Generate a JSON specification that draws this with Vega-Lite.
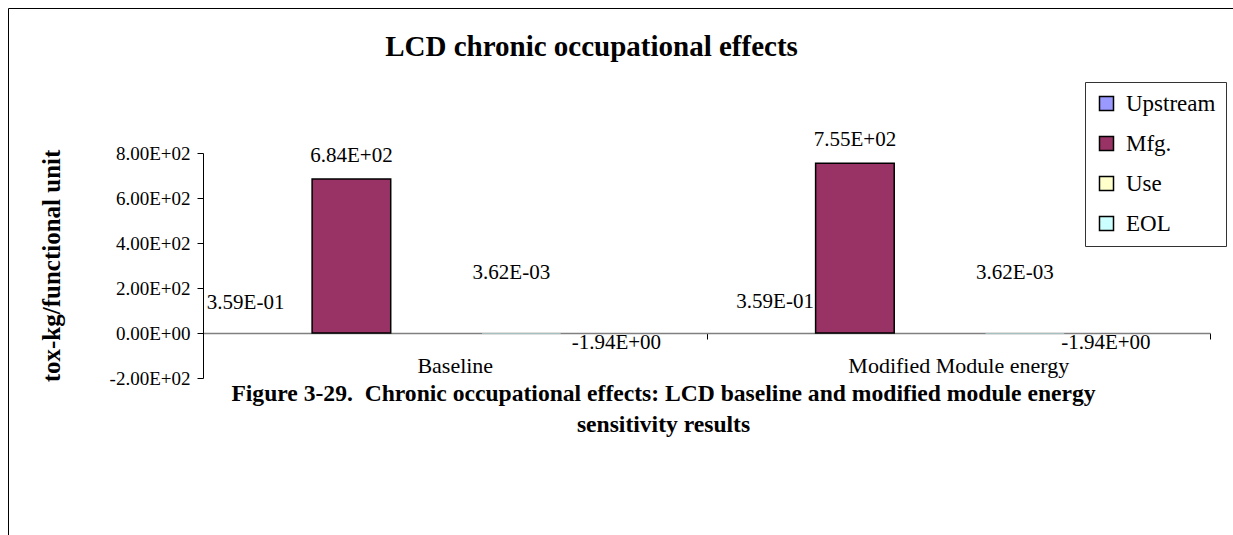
{
  "$schema": "https://vega.github.io/schema/vega-lite/v6.json",
  "width": 1227,
  "height": 529,
  "autosize": {"type": "none"},
  "padding": {"left": 8, "top": 8, "right": -2, "bottom": -2},
  "background": "white",
  "config": {
    "view": {"stroke": "black", "strokeWidth": 1},
    "font": "Liberation Serif",
    "text": {"font": "Liberation Serif", "fontSize": 21, "color": "black"}
  },
  "title": {
    "text": "LCD chronic occupational effects",
    "font": "Liberation Serif",
    "fontSize": 29,
    "fontWeight": "bold",
    "color": "black",
    "anchor": "middle",
    "frame": "group",
    "dx": -30,
    "offset": 0,
    "dy": 54
  },
  "data": {
    "values": [
      {"scenario": "Baseline", "stage": "Upstream", "value": 0.359, "label": "3.59E-01"},
      {"scenario": "Baseline", "stage": "Mfg.", "value": 684, "label": "6.84E+02"},
      {"scenario": "Baseline", "stage": "Use", "value": 0.00362, "label": "3.62E-03"},
      {"scenario": "Baseline", "stage": "EOL", "value": -1.94, "label": "-1.94E+00"},
      {"scenario": "Modified Module energy", "stage": "Upstream", "value": 0.359, "label": "3.59E-01"},
      {"scenario": "Modified Module energy", "stage": "Mfg.", "value": 755, "label": "7.55E+02"},
      {"scenario": "Modified Module energy", "stage": "Use", "value": 0.00362, "label": "3.62E-03"},
      {"scenario": "Modified Module energy", "stage": "EOL", "value": -1.94, "label": "-1.94E+00"}
    ]
  },
  "encoding": {
    "x": {
      "field": "scenario",
      "type": "nominal",
      "sort": ["Baseline", "Modified Module energy"],
      "scale": {"range": [195, 1202], "paddingInner": 0, "paddingOuter": 0},
      "axis": {
        "orient": "bottom",
        "offset": -204,
        "labelAngle": 0,
        "labelLimit": 0,
        "tickBand": "extent",
        "domainColor": "#808080",
        "domainWidth": 1.5,
        "tickColor": "#000000",
        "tickSize": 6,
        "labelPadding": 16,
        "labelFont": "Liberation Serif",
        "labelFontSize": 22,
        "labelColor": "black",
        "title": ["Figure 3-29.\u00a0 Chronic occupational effects: LCD baseline and modified module energy", "sensitivity results"],
        "titleFont": "Liberation Serif",
        "titleFontSize": 23.6,
        "titleFontWeight": "bold",
        "titleColor": "black",
        "titleX": 655,
        "titleY": 48,
        "titleAlign": "center",
        "titleBaseline": "top",
        "titleLineHeight": 31
      }
    },
    "xOffset": {
      "field": "stage",
      "type": "nominal",
      "sort": ["Upstream", "Mfg.", "Use", "EOL"],
      "scale": {"paddingInner": 0.075, "paddingOuter": 1.228, "align": 0.142}
    },
    "y": {
      "field": "value",
      "type": "quantitative",
      "scale": {"domain": [-200, 800], "range": [370, 145], "nice": false, "zero": false},
      "axis": {
        "orient": "left",
        "offset": -195,
        "values": [-200, 0, 200, 400, 600, 800],
        "labelExpr": "datum.value === 0 ? '0.00E+00' : (datum.value < 0 ? '-' : '') + format(abs(datum.value) / 100, '.2f') + 'E+02'",
        "grid": false,
        "domainColor": "#000000",
        "tickColor": "#000000",
        "tickSize": 6,
        "labelPadding": 7,
        "labelFont": "Liberation Serif",
        "labelFontSize": 19,
        "labelColor": "black",
        "title": "tox-kg/functional unit",
        "titleFont": "Liberation Serif",
        "titleFontSize": 25,
        "titleFontWeight": "bold",
        "titleColor": "black",
        "titlePadding": 45
      }
    }
  },
  "layer": [
    {
      "mark": {"type": "bar", "stroke": "black"},
      "encoding": {
        "strokeWidth": {"condition": {"test": "datum.stage === 'Mfg.'", "value": 1.5}, "value": 0},
        "color": {
          "field": "stage",
          "type": "nominal",
          "sort": ["Upstream", "Mfg.", "Use", "EOL"],
          "scale": {"domain": ["Upstream", "Mfg.", "Use", "EOL"], "range": ["#9999FF", "#993366", "#FFFFCC", "#CCFFFF"]},
          "legend": {
            "title": null,
            "orient": "none",
            "legendX": 1077,
            "legendY": 74,
            "direction": "vertical",
            "strokeColor": "#333333",
            "fillColor": "white",
            "padding": 10,
            "symbolType": "square",
            "symbolSize": 196,
            "symbolStrokeColor": "black",
            "symbolStrokeWidth": 1.5,
            "symbolOpacity": 1,
            "labelFont": "Liberation Serif",
            "labelFontSize": 23,
            "labelColor": "black",
            "labelOffset": 8,
            "rowPadding": 16
          }
        }
      }
    },
    {
      "transform": [{"filter": "datum.stage === 'Mfg.'"}],
      "mark": {"type": "text", "baseline": "middle", "dy": -23},
      "encoding": {"text": {"field": "label"}}
    },
    {
      "transform": [{"filter": "datum.stage === 'Upstream' && datum.scenario === 'Baseline'"}],
      "mark": {"type": "text", "baseline": "middle", "align": "right", "dx": 18, "dy": -30},
      "encoding": {"text": {"field": "label"}}
    },
    {
      "transform": [{"filter": "datum.stage === 'Upstream' && datum.scenario !== 'Baseline'"}],
      "mark": {"type": "text", "baseline": "middle", "align": "right", "dx": 44, "dy": -31},
      "encoding": {"text": {"field": "label"}}
    },
    {
      "transform": [{"filter": "datum.stage === 'Use'"}],
      "mark": {"type": "text", "baseline": "middle", "dx": 75, "dy": -60},
      "encoding": {"text": {"field": "label"}}
    },
    {
      "transform": [{"filter": "datum.stage === 'EOL' && datum.scenario === 'Baseline'"}],
      "mark": {"type": "text", "baseline": "middle", "dx": 95, "dy": 10},
      "encoding": {"text": {"field": "label"}}
    },
    {
      "transform": [{"filter": "datum.stage === 'EOL' && datum.scenario !== 'Baseline'"}],
      "mark": {"type": "text", "baseline": "middle", "dx": 81, "dy": 10},
      "encoding": {"text": {"field": "label"}}
    }
  ]
}
